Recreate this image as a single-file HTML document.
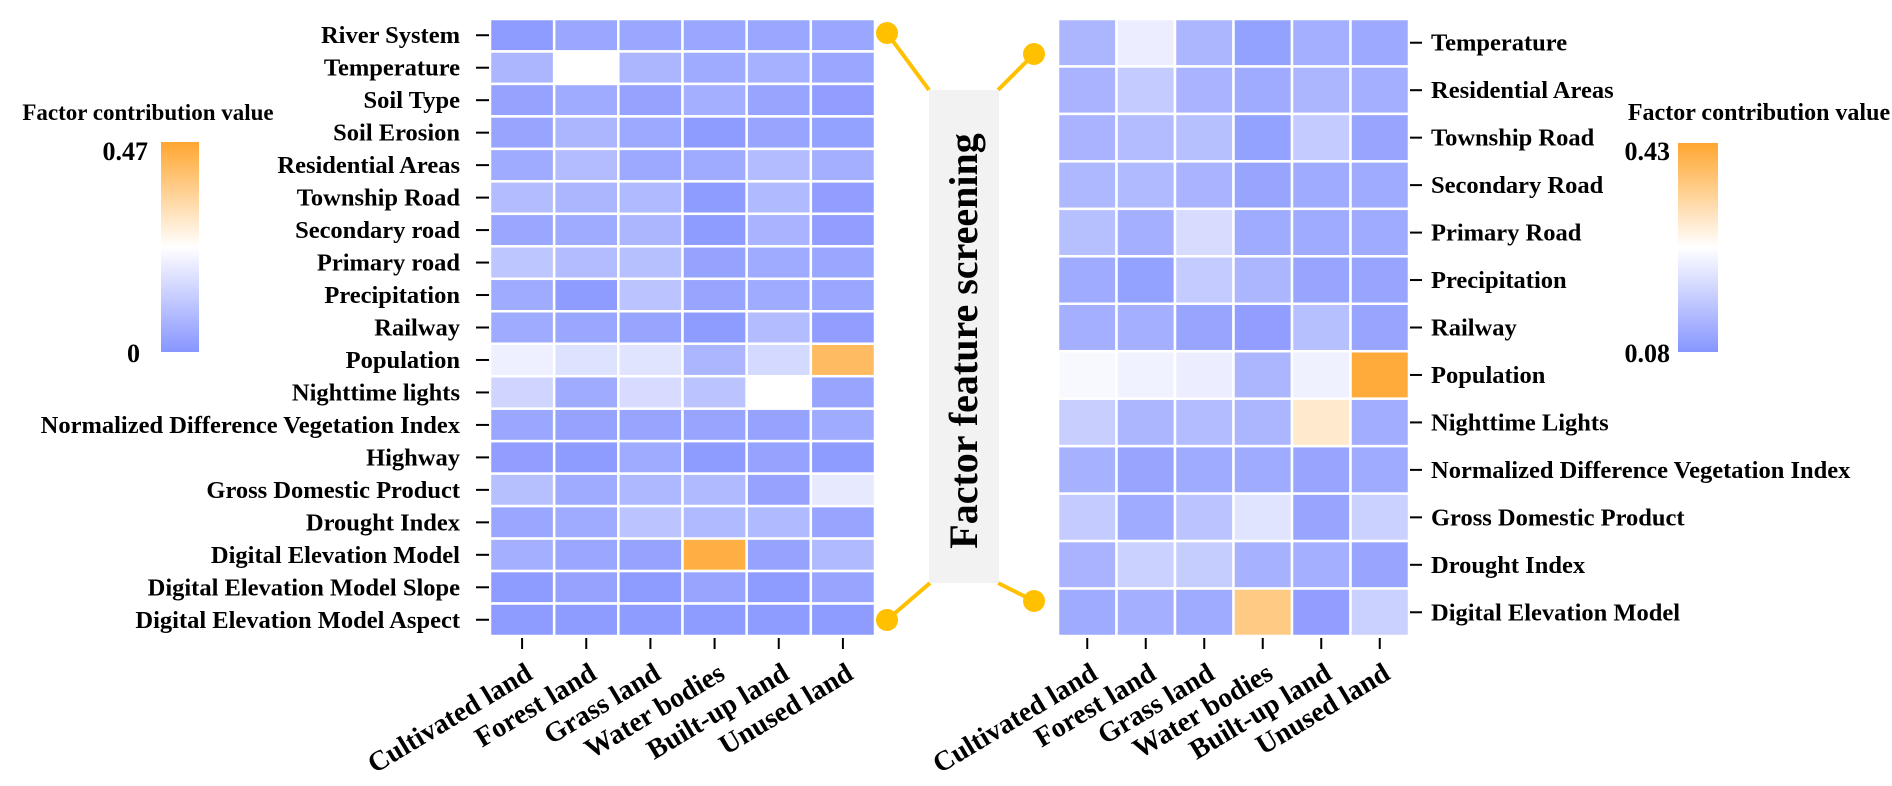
<!DOCTYPE html>
<html><head><meta charset="utf-8"><style>
html,body{margin:0;padding:0;background:#fff;}
svg{display:block;font-family:"Liberation Serif",serif;font-weight:bold;}
</style></head><body>
<svg id="svg" width="1892" height="786" viewBox="0 0 1892 786" xmlns="http://www.w3.org/2000/svg">
<defs>
<linearGradient id="cb" x1="0" y1="1" x2="0" y2="0">
<stop offset="0" stop-color="#8796ff"/><stop offset="0.5" stop-color="#ffffff"/><stop offset="1" stop-color="#ffa630"/>
</linearGradient>
</defs>
<g id="left"></g>
<g id="right"></g>
<g>
<text x="148" y="120" text-anchor="middle" font-size="23">Factor contribution value</text>
<rect x="161" y="142" width="38" height="210" fill="url(#cb)"/>
<text x="148" y="160" text-anchor="end" font-size="26">0.47</text>
<text x="140" y="362" text-anchor="end" font-size="26">0</text>
</g>
<g>
<text x="1759" y="120" text-anchor="middle" font-size="24">Factor contribution value</text>
<rect x="1678" y="143" width="40" height="209" fill="url(#cb)"/>
<text x="1670" y="160" text-anchor="end" font-size="26">0.43</text>
<text x="1670" y="362" text-anchor="end" font-size="26">0.08</text>
</g>
<g>
<g stroke="#ffc000" stroke-width="4" fill="none">
<line x1="887" y1="33" x2="929" y2="90"/><line x1="1034" y1="54" x2="998" y2="90"/>
<line x1="887" y1="620" x2="930" y2="583"/><line x1="1034" y1="601" x2="998" y2="583"/>
</g>
<g fill="#ffc000"><circle cx="887" cy="33" r="11"/><circle cx="1034" cy="54" r="11"/><circle cx="887" cy="620" r="11"/><circle cx="1034" cy="601" r="11"/></g>
<rect x="929" y="90" width="70" height="493" fill="#f2f2f2"/>
<text transform="translate(977,341) rotate(-90)" text-anchor="middle" font-size="40">Factor feature screening</text>
</g>
</svg>
<script>
const xCats = ["Cultivated land","Forest land","Grass land","Water bodies","Built-up land","Unused land"];
const leftRows = ["River System","Temperature","Soil Type","Soil Erosion","Residential Areas","Township Road","Secondary road","Primary road","Precipitation","Railway","Population","Nighttime lights","Normalized Difference Vegetation Index","Highway","Gross Domestic Product","Drought Index","Digital Elevation Model","Digital Elevation Model Slope","Digital Elevation Model Aspect"];
const leftVals = [
[0.014,0.038,0.038,0.038,0.038,0.038],
[0.071,0.235,0.071,0.047,0.061,0.038],
[0.028,0.047,0.028,0.056,0.033,0.019],
[0.033,0.071,0.042,0.014,0.033,0.024],
[0.047,0.085,0.042,0.047,0.085,0.056],
[0.085,0.071,0.080,0.014,0.080,0.019],
[0.038,0.047,0.071,0.014,0.066,0.019],
[0.108,0.085,0.094,0.028,0.047,0.038],
[0.047,0.014,0.103,0.033,0.047,0.038],
[0.047,0.038,0.033,0.014,0.085,0.019],
[0.202,0.169,0.174,0.071,0.150,0.414],
[0.141,0.047,0.155,0.103,0.235,0.033],
[0.038,0.028,0.033,0.033,0.028,0.047],
[0.019,0.014,0.047,0.014,0.028,0.014],
[0.094,0.047,0.075,0.080,0.028,0.188],
[0.038,0.047,0.103,0.080,0.080,0.033],
[0.056,0.038,0.028,0.447,0.028,0.080],
[0.014,0.028,0.014,0.033,0.014,0.033],
[0.014,0.014,0.014,0.014,0.014,0.014]];
const leftMin = 0, leftMax = 0.47;
const rightRows = ["Temperature","Residential Areas","Township Road","Secondary Road","Primary Road","Precipitation","Railway","Population","Nighttime Lights","Normalized Difference Vegetation Index","Gross Domestic Product","Drought Index","Digital Elevation Model"];
const rightVals = [
[0.133,0.227,0.133,0.098,0.122,0.112],
[0.129,0.168,0.129,0.115,0.133,0.122],
[0.129,0.143,0.150,0.098,0.168,0.105],
[0.136,0.140,0.129,0.105,0.115,0.115],
[0.150,0.122,0.196,0.115,0.115,0.115],
[0.115,0.098,0.168,0.133,0.105,0.105],
[0.122,0.122,0.105,0.094,0.150,0.105],
[0.245,0.234,0.227,0.133,0.231,0.420],
[0.175,0.133,0.143,0.133,0.297,0.119],
[0.126,0.105,0.115,0.115,0.105,0.115],
[0.168,0.115,0.157,0.210,0.105,0.178],
[0.129,0.178,0.171,0.126,0.122,0.105],
[0.115,0.122,0.115,0.360,0.094,0.178]];
const rightMin = 0.08, rightMax = 0.43;

const NS="http://www.w3.org/2000/svg";
function lerp(a,b,t){return Math.round(a+(b-a)*t);}
function cmap(t){
  t=Math.max(0,Math.min(1,t));
  const lo=[135,150,255],mid=[255,255,255],hi=[255,166,48];
  let a,b,u; if(t<0.5){a=lo;b=mid;u=t/0.5;}else{a=mid;b=hi;u=(t-0.5)/0.5;}
  return `rgb(${lerp(a[0],b[0],u)},${lerp(a[1],b[1],u)},${lerp(a[2],b[2],u)})`;
}
function mk(tag,attrs,parent){const e=document.createElementNS(NS,tag);for(const k in attrs)e.setAttribute(k,attrs[k]);parent.appendChild(e);return e;}
function draw(g,rows,vals,vmin,vmax,x0,x1,y0,y1,labelSide){
  const cw=(x1-x0)/xCats.length, rh=(y1-y0)/rows.length;
  const xs=i=>x0+i*cw, ys=j=>y0+j*rh;
  rows.forEach((r,j)=>{
    vals[j].forEach((v,i)=>{
      const c=mk('rect',{x:xs(i),y:ys(j),width:cw,height:rh,fill:cmap((v-vmin)/(vmax-vmin)),stroke:'#fff','stroke-width':2.5},g);
      
      
    });
    const cy=ys(j)+rh/2;
    if(labelSide==='left'){
      mk('line',{x1:x0-14,y1:cy,x2:x0-1,y2:cy,stroke:'#000','stroke-width':2},g);
      const t=mk('text',{x:x0-30,y:cy+8,'text-anchor':'end','font-size':24.5},g);t.textContent=r;
      
      
    } else {
      mk('line',{x1:x1+1,y1:cy,x2:x1+13,y2:cy,stroke:'#000','stroke-width':2},g);
      const t=mk('text',{x:x1+22,y:cy+8,'text-anchor':'start','font-size':24.5},g);t.textContent=r;
      
      
    }
  });
  xCats.forEach((c,i)=>{
    const cx=xs(i)+cw/2;
    mk('line',{x1:cx,y1:y1+2,x2:cx,y2:y1+13,stroke:'#000','stroke-width':2},g);
    const t=mk('text',{x:cx+12,y:y1+42,'text-anchor':'end','font-size':28,transform:`rotate(-31 ${cx+12} ${y1+42})`},g);
    t.textContent=c;
    
    
  });
}
draw(document.getElementById('left'),leftRows,leftVals,leftMin,leftMax,490,875,19,636,'left');
draw(document.getElementById('right'),rightRows,rightVals,rightMin,rightMax,1058,1409,19,636,'right');
</script>
</body></html>
